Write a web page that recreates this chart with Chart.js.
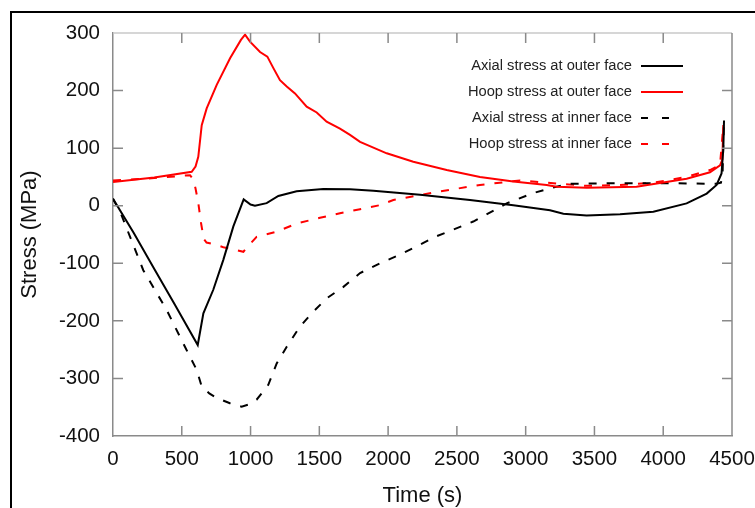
<!DOCTYPE html>
<html>
<head>
<meta charset="utf-8">
<script src="https://cdn.jsdelivr.net/npm/chart.js@4"></script>
<style>
  html, body { margin: 0; padding: 0; overflow: hidden; background: #fff; }
  #chart { display: block; }
</style>
</head>
<body>
<canvas id="chart" width="780" height="520"></canvas>
<script>
const axialOuterT = [0, 150, 293, 450, 616, 657, 729, 802, 875, 950, 1000, 1032, 1117, 1202, 1335, 1529, 1723, 1893, 2232, 2595, 2910, 3177, 3274, 3443, 3686, 3928, 4170, 4316, 4388, 4424, 4437, 4442];
const axialOuterV = [12, -47, -107, -172, -242, -187, -146, -94, -36, 11, 2, 0, 4.4, 17, 25, 29, 28.5, 26, 19, 10, 1, -8, -14, -17, -15, -10.5, 4, 21, 36, 56, 100, 148];

const hoopOuterT = [0, 300, 572, 600, 620, 645, 681, 754, 851, 930, 960, 996, 1069, 1122, 1166, 1214, 1263, 1323, 1408, 1481, 1553, 1650, 1723, 1796, 1990, 2183, 2426, 2668, 2910, 3153, 3225, 3443, 3806, 4170, 4340, 4413, 4430, 4437];
const hoopOuterV = [41, 49, 59, 68, 85, 140, 169, 210, 256, 288, 297, 285, 267, 259, 239, 218, 207, 195, 172, 162, 146, 134, 123, 111, 91, 76.5, 62, 50, 42, 36, 33, 31, 33, 47, 58, 70, 80, 140];

const axialInnerT = [0, 56, 220, 390, 523, 608, 645, 700, 754, 850, 935, 990, 1044, 1129, 1190, 1263, 1359, 1444, 1553, 1675, 1796, 1941, 2086, 2353, 2619, 2862, 3056, 3189, 3322, 3600, 4049, 4388, 4420, 4432, 4440];
const axialInnerV = [12, -13, -112, -181, -245, -285, -314, -326, -334, -343, -349, -345, -337, -311, -274, -245, -210, -187, -161, -141, -117, -100, -85, -53, -27.5, 4, 22, 31, 38, 39, 39, 38, 40, 60, 140];

const hoopInnerT = [0, 300, 560, 585, 600, 620, 640, 660, 680, 750, 802, 880, 948, 984, 1044, 1190, 1335, 1505, 1650, 1796, 1941, 2038, 2353, 2668, 2959, 3201, 3443, 3686, 3928, 4170, 4340, 4413, 4437];
const hoopInnerV = [44, 48, 53, 45, 30, 5, -30, -58, -64, -68, -72, -76, -80, -70, -54, -45, -31, -21, -13, -6, 1, 10, 24, 36, 44, 39, 34.5, 36, 40, 50, 62, 71, 140];

const seriesLabels = ["Axial stress at outer face", "Hoop stress at outer face", "Axial stress at inner face", "Hoop stress at inner face"];

const FONT = "'Liberation Sans', Arial, sans-serif";

function points(ts, vs) {
  return ts.map((t, i) => ({ x: t, y: vs[i] }));
}

// outer black frame, inner ticks, plot frame and right-aligned legend
const decorations = {
  id: "decorations",
  beforeDraw(chart) {
    const ctx = chart.ctx;
    ctx.save();
    ctx.fillStyle = "#fff";
    ctx.fillRect(0, 0, chart.width, chart.height);
    ctx.fillStyle = "#000";
    ctx.fillRect(10, 11, 2, chart.height);
    ctx.fillRect(10, 11, chart.width, 2);
    ctx.restore();
  },
  afterDraw(chart) {
    const ctx = chart.ctx;
    const a = chart.chartArea;
    const xs = chart.scales.x;
    const ys = chart.scales.y;
    ctx.save();
    ctx.lineWidth = 1.5;
    ctx.strokeStyle = "#c8c8c8";
    ctx.beginPath();
    ctx.moveTo(a.left, a.top);
    ctx.lineTo(a.right, a.top);
    ctx.stroke();
    ctx.strokeStyle = "#8a8a8a";
    ctx.beginPath();
    ctx.moveTo(a.right, a.top);
    ctx.lineTo(a.right, a.bottom);
    xs.ticks.forEach((t) => {
      const px = xs.getPixelForValue(t.value);
      if (px <= a.left + 1 || px >= a.right - 1) return;
      ctx.moveTo(px, a.bottom);
      ctx.lineTo(px, a.bottom - 10);
      ctx.moveTo(px, a.top);
      ctx.lineTo(px, a.top + 10);
    });
    ys.ticks.forEach((t) => {
      const py = ys.getPixelForValue(t.value);
      if (py <= a.top + 1 || py >= a.bottom - 1) return;
      ctx.moveTo(a.left, py);
      ctx.lineTo(a.left + 10, py);
      ctx.moveTo(a.right, py);
      ctx.lineTo(a.right - 10, py);
    });
    ctx.stroke();

    // legend
    ctx.font = "14.7px " + FONT;
    ctx.textAlign = "right";
    ctx.textBaseline = "middle";
    chart.data.datasets.forEach((ds, i) => {
      const y = 66 + i * 26;
      ctx.fillStyle = "#222";
      ctx.fillText(ds.label, 632, y);
      ctx.strokeStyle = ds.borderColor;
      ctx.lineWidth = 2;
      ctx.setLineDash(ds.borderDash && ds.borderDash.length ? [7, 14] : []);
      ctx.beginPath();
      ctx.moveTo(641, y);
      ctx.lineTo(683, y);
      ctx.stroke();
    });
    ctx.restore();
  },
};

new Chart(document.getElementById("chart"), {
  type: "line",
  data: {
    datasets: [
      {
        label: seriesLabels[0],
        data: points(axialOuterT, axialOuterV),
        borderColor: "#000000",
        borderWidth: 2,
        borderDash: [],
      },
      {
        label: seriesLabels[1],
        data: points(hoopOuterT, hoopOuterV),
        borderColor: "#ff0000",
        borderWidth: 2,
        borderDash: [],
      },
      {
        label: seriesLabels[2],
        data: points(axialInnerT, axialInnerV),
        borderColor: "#000000",
        borderWidth: 2,
        borderDash: [8, 10],
      },
      {
        label: seriesLabels[3],
        data: points(hoopInnerT, hoopInnerV),
        borderColor: "#ff0000",
        borderWidth: 2,
        borderDash: [8, 10],
      },
    ],
  },
  options: {
    responsive: false,
    animation: false,
    pointRadius: 0,
    tension: 0,
    layout: { padding: { left: 0, top: 33, right: 48, bottom: 0 } },
    plugins: {
      legend: { display: false },
      tooltip: { enabled: false },
    },
    scales: {
      x: {
        type: "linear",
        min: 0,
        max: 4500,
        border: { display: true, color: "#8a8a8a", width: 1.5 },
        grid: { display: false, drawTicks: false },
        ticks: {
          stepSize: 500,
          padding: 11,
          color: "#111",
          font: { family: FONT, size: 20.5 },
          maxRotation: 0,
          callback: (value) => String(value),
        },
        title: {
          display: true,
          text: "Time (s)",
          color: "#111",
          font: { family: FONT, size: 22 },
          padding: { top: 11, bottom: 11 },
        },
        afterFit(scale) {
          scale.height = 520 - 436;
          scale.paddingLeft = 0;
          scale.paddingRight = 0;
        },
      },
      y: {
        min: -400,
        max: 300,
        border: { display: true, color: "#8a8a8a", width: 1.5 },
        grid: { display: false, drawTicks: false },
        ticks: {
          stepSize: 100,
          padding: 13,
          color: "#111",
          font: { family: FONT, size: 20.5 },
        },
        title: {
          display: true,
          text: "Stress (MPa)",
          color: "#111",
          font: { family: FONT, size: 22 },
          padding: { top: 17, bottom: 17 },
        },
        afterFit(scale) {
          scale.width = 113;
          scale.paddingTop = 0;
          scale.paddingBottom = 0;
        },
      },
    },
  },
  plugins: [decorations],
});
</script>
</body>
</html>
